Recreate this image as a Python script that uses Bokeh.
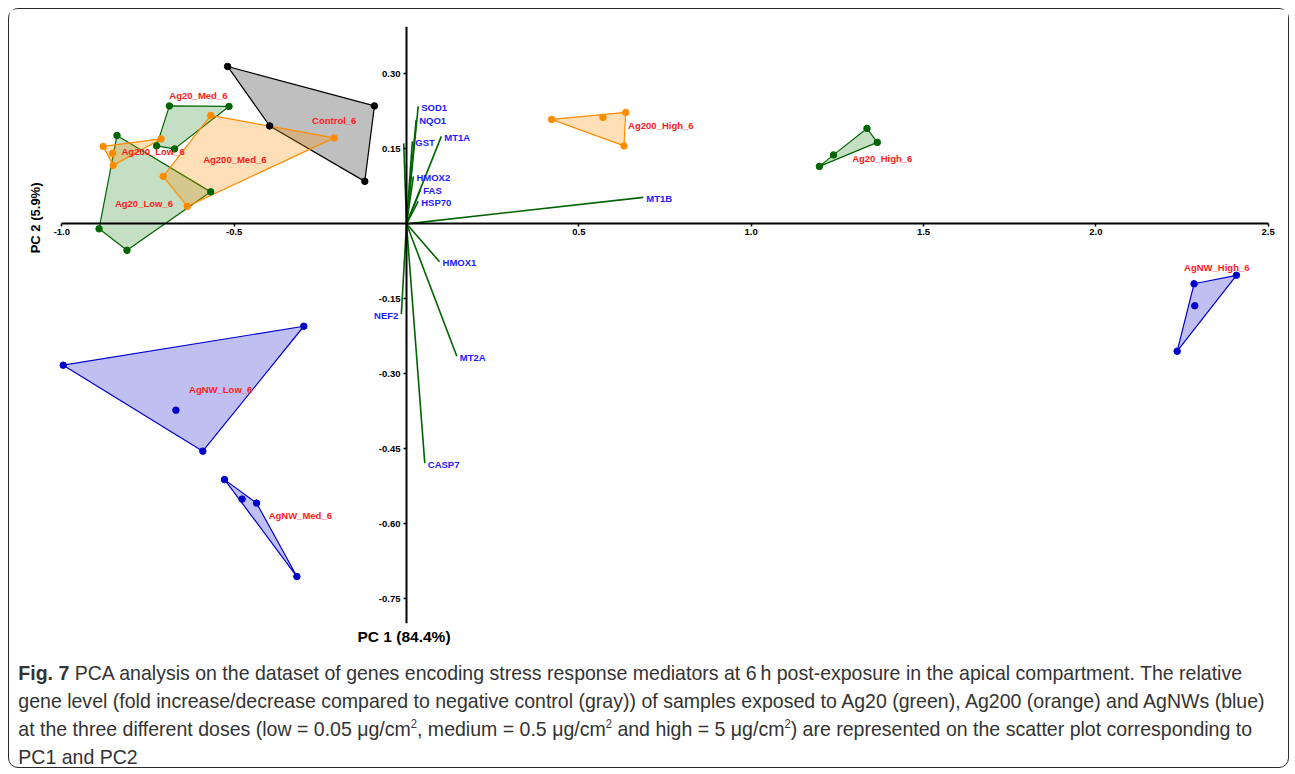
import numpy as np
from bokeh.plotting import figure
from bokeh.models import (FixedTicker, PrintfTickFormatter, Title, Div, Range1d)
from bokeh.layouts import column
from bokeh.core.properties import value
from bokeh.embed import file_html
from bokeh.resources import INLINE

# ---------------- data ----------------
# sample scores (PC1, PC2) for each group of replicates
control_pc1 = [-0.519, -0.093, -0.121, -0.397]
control_pc2 = [0.315, 0.236, 0.085, 0.196]
ag20_low_pc1 = [-0.840, -0.568, -0.811, -0.892]
ag20_low_pc2 = [0.177, 0.064, -0.053, -0.010]
ag20_med_pc1 = [-0.688, -0.515, -0.673, -0.725]
ag20_med_pc2 = [0.236, 0.235, 0.150, 0.156]
ag20_high_pc1 = [1.198, 1.239, 1.336, 1.366]
ag20_high_pc2 = [0.115, 0.138, 0.191, 0.163]
ag200_low_pc1 = [-0.880, -0.712, -0.851, -0.853]
ag200_low_pc2 = [0.155, 0.170, 0.117, 0.141]
ag200_med_pc1 = [-0.568, -0.210, -0.636, -0.706]
ag200_med_pc2 = [0.217, 0.172, 0.035, 0.095]
ag200_high_pc1 = [0.421, 0.570, 0.636, 0.631]
ag200_high_pc2 = [0.209, 0.213, 0.223, 0.156]
agnw_low_pc1 = [-0.996, -0.298, -0.591, -0.669]
agnw_low_pc2 = [-0.283, -0.205, -0.455, -0.373]
agnw_med_pc1 = [-0.528, -0.477, -0.435, -0.318]
agnw_med_pc2 = [-0.512, -0.551, -0.559, -0.706]
agnw_high_pc1 = [2.408, 2.285, 2.287, 2.236]
agnw_high_pc2 = [-0.103, -0.120, -0.164, -0.255]

group_names = ["Control_6", "Ag20_Low_6", "Ag20_Med_6", "Ag20_High_6",
               "Ag200_Low_6", "Ag200_Med_6", "Ag200_High_6",
               "AgNW_Low_6", "AgNW_Med_6", "AgNW_High_6"]
group_material = ["Control", "Ag20", "Ag20", "Ag20", "Ag200", "Ag200", "Ag200",
                  "AgNW", "AgNW", "AgNW"]
# anchor (left / middle) of each group's name
group_label_pc1 = [-0.274, -0.846, -0.688, 1.293, -0.827, -0.590, 0.643, -0.631, -0.400, 2.256]
group_label_pc2 = [0.207, 0.041, 0.256, 0.131, 0.145, 0.128, 0.197, -0.332, -0.583, -0.087]

# gene loadings
gene_names = ["SOD1", "NQO1", "GST", "MT1A", "HMOX2", "FAS", "HSP70",
              "MT1B", "HMOX1", "MT2A", "NEF2", "CASP7"]
gene_pc1 = [0.034, 0.028, 0.017, 0.101, 0.020, 0.040, 0.034,
            0.687, 0.096, 0.146, -0.015, 0.053]
gene_pc2 = [0.235, 0.208, 0.165, 0.175, 0.095, 0.068, 0.045,
            0.053, -0.076, -0.265, -0.181, -0.479]
# one loading whose name is hidden behind the 0.15 tick label
hidden_pc1 = [-0.008]
hidden_pc2 = [0.161]

x_ticks = [-1.0, -0.5, 0.5, 1.0, 1.5, 2.0, 2.5]
y_ticks = [0.30, 0.15, -0.15, -0.30, -0.45, -0.60, -0.75]

x_title = "PC 1 (84.4%)"
y_title = "PC 2 (5.9%)"

# ---------------- styling ----------------
material_line = {"Control": "#000000", "Ag20": "#006400", "Ag200": "#ff8c00", "AgNW": "#0000cd"}
material_fill = {"Control": "#000000", "Ag20": "#2e8b2e", "Ag200": "#ff8c00", "AgNW": "#0000cd"}
material_alpha = {"Control": 0.25, "Ag20": 0.28, "Ag200": 0.28, "AgNW": 0.25}

groups_pc1 = [control_pc1, ag20_low_pc1, ag20_med_pc1, ag20_high_pc1,
              ag200_low_pc1, ag200_med_pc1, ag200_high_pc1,
              agnw_low_pc1, agnw_med_pc1, agnw_high_pc1]
groups_pc2 = [control_pc2, ag20_low_pc2, ag20_med_pc2, ag20_high_pc2,
              ag200_low_pc2, ag200_med_pc2, ag200_high_pc2,
              agnw_low_pc2, agnw_med_pc2, agnw_high_pc2]


def hull(xs, ys):
    pts = sorted(zip(xs, ys))

    def cross(o, a, b):
        return (a[0] - o[0]) * (b[1] - o[1]) - (a[1] - o[1]) * (b[0] - o[0])
    lower, upper = [], []
    for pt in pts:
        while len(lower) >= 2 and cross(lower[-2], lower[-1], pt) <= 0:
            lower.pop()
        lower.append(pt)
    for pt in reversed(pts):
        while len(upper) >= 2 and cross(upper[-2], upper[-1], pt) <= 0:
            upper.pop()
        upper.append(pt)
    h = lower[:-1] + upper[:-1]
    return [q[0] for q in h], [q[1] for q in h]


FONT = value("Liberation Sans")

p = figure(width=1279, height=645,
           x_range=Range1d(-1.03, 2.53), y_range=Range1d(-0.80, 0.395),
           output_backend="svg", toolbar_location=None,
           min_border_left=42, min_border_right=10,
           min_border_top=17, min_border_bottom=31)
p.outline_line_color = None
p.xgrid.visible = False
p.ygrid.visible = False

# hulls
for name, mat, xs, ys in zip(group_names, group_material, groups_pc1, groups_pc2):
    hx, hy = hull(xs, ys)
    p.patch(hx, hy, fill_color=material_fill[mat], fill_alpha=material_alpha[mat],
            line_color=material_line[mat], line_width=1.2)

# loading vectors
p.segment(x0=0, y0=0, x1=gene_pc1 + hidden_pc1, y1=gene_pc2 + hidden_pc2,
          line_color="#006400", line_width=1.6)

# sample points
for name, mat, xs, ys in zip(group_names, group_material, groups_pc1, groups_pc2):
    p.scatter(xs, ys, size=6.5, fill_color=material_line[mat],
              line_color=material_line[mat])

# gene names
pos = [i for i, v in enumerate(gene_pc1) if v >= 0]
neg = [i for i, v in enumerate(gene_pc1) if v < 0]
p.text(x=[gene_pc1[i] for i in pos], y=[gene_pc2[i] for i in pos],
       text=[gene_names[i] for i in pos], x_offset=3, y_offset=1,
       text_font=FONT, text_font_style="bold", text_font_size="9.5px",
       text_color="#1a1aff", text_align="left", text_baseline="middle")
p.text(x=[gene_pc1[i] for i in neg], y=[gene_pc2[i] for i in neg],
       text=[gene_names[i] for i in neg], x_offset=-3, y_offset=1,
       text_font=FONT, text_font_style="bold", text_font_size="9.5px",
       text_color="#1a1aff", text_align="right", text_baseline="middle")

# group names
p.text(x=group_label_pc1, y=group_label_pc2, text=group_names,
       text_font=FONT, text_font_style="bold", text_font_size="9.5px",
       text_color="#ff1a1a", text_align="left", text_baseline="middle")

# axes crossing at the origin
for ax in (p.xaxis[0], p.yaxis[0]):
    ax.fixed_location = 0
    ax.axis_line_width = 2
    ax.axis_line_color = "black"
    ax.major_tick_line_width = 1.5
    ax.major_tick_in = 0
    ax.major_tick_out = 3
    ax.minor_tick_line_color = None
    ax.major_label_text_font = "Liberation Sans"
    ax.major_label_text_font_style = "bold"
    ax.major_label_text_font_size = "9.5px"
    ax.major_label_text_color = "black"
    ax.axis_label = None
p.xaxis[0].bounds = (x_ticks[0], x_ticks[-1])
p.xaxis[0].ticker = FixedTicker(ticks=x_ticks)
p.xaxis[0].formatter = PrintfTickFormatter(format="%.1f")
p.xaxis[0].major_label_standoff = 2
p.yaxis[0].ticker = FixedTicker(ticks=y_ticks)
p.yaxis[0].formatter = PrintfTickFormatter(format="%.2f")
p.yaxis[0].major_label_standoff = 3

# axis titles (placed like the original: PC1 under the vertical axis, PC2 level with the origin)
p.add_layout(Title(text=x_title, align="left", offset=306, standoff=4,
                   text_font="Liberation Sans", text_font_style="bold",
                   text_font_size="15.5px", text_color="black"), "below")
p.add_layout(Title(text=y_title, align="right", offset=156, standoff=18,
                   text_font="Liberation Sans", text_font_style="bold",
                   text_font_size="13px", text_color="black"), "left")

sup = '<sup style="font-size:12px;line-height:0">2</sup>'
caption_html = (
    '<div style="font-family:\'Liberation Sans\',sans-serif;'
    'font-size:21px;line-height:28px;color:#333333;white-space:nowrap;'
    'padding:5px 0 0 10px;transform:scaleX(0.93);transform-origin:0 0;">'
    '<b>Fig. 7</b> PCA analysis on the dataset of genes encoding stress response mediators at 6&#8201;h '
    'post-exposure in the apical compartment. The relative<br>'
    'gene level (fold increase/decrease compared to negative control (gray)) of samples exposed to '
    'Ag20 (green), Ag200 (orange) and AgNWs (blue)<br>'
    'at the three different doses (low = 0.05 &#956;g/cm' + sup + ', medium = 0.5 &#956;g/cm' + sup +
    ' and high = 5 &#956;g/cm' + sup + ') are represented on the scatter plot corresponding to<br>'
    'PC1 and PC2</div>'
)
cap = Div(text=caption_html, width=1279, height=113, margin=(0, 0, 0, 0))

layout = column(p, cap, margin=(8, 5, 8, 8),
                styles={"border": "1.5px solid #2b2b2b", "border-radius": "10px"})

open("out.html", "w").write(file_html(layout, INLINE))
